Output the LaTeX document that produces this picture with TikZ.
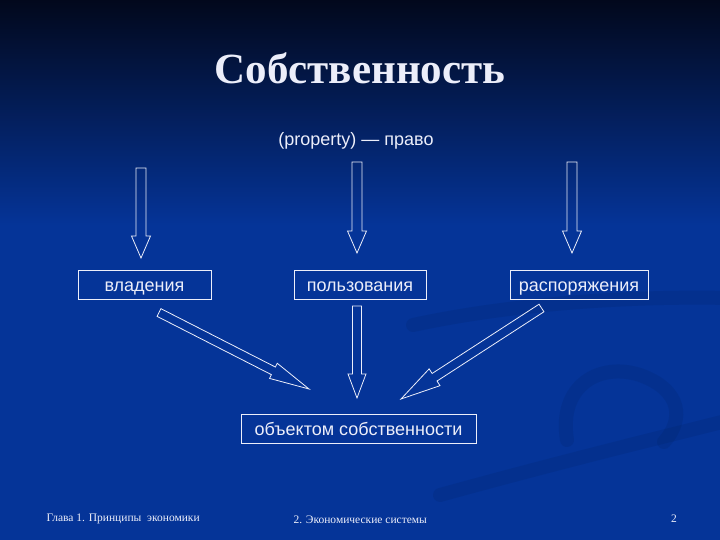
\documentclass[tikz,border=0pt]{standalone}
\usepackage{fontspec}
\setmainfont{Liberation Serif}
\setsansfont{Liberation Sans}
\usetikzlibrary{calc}

\definecolor{deep}{RGB}{2,8,28}
\definecolor{midblue}{RGB}{4,34,104}
\definecolor{slide}{RGB}{5,52,152}
\definecolor{ink}{RGB}{236,238,250}

\tikzset{
  box/.style={draw=ink, line width=0.9pt, text=ink, inner sep=0pt, minimum height=29pt,
    text height=15pt, text depth=2pt, font=\sffamily\fontsize{18}{18}\selectfont},
  lead/.style={text=ink, font=\sffamily\fontsize{18}{18}\selectfont},
  headline/.style={text=ink, font=\bfseries\fontsize{43}{43}\selectfont},
  foot/.style={text=ink, font=\fontsize{11.5}{11.5}\selectfont},
  fat/.style={draw=ink, line width=0.8pt, line join=miter},
  swoosh/.style={line width=14pt, draw=black!60!slide, opacity=0.1, line cap=round},
}

\newcommand\fatarrow[5]{%
  \coordinate (fh) at ($(#2)!#5pt!(#1)$);
  \draw[fat] ($(#1)!#3pt!90:(#2)$) -- ($(fh)!#3pt!90:(#2)$) -- ($(fh)!#4pt!90:(#2)$) -- (#2)
    -- ($(fh)!#4pt!-90:(#2)$) -- ($(fh)!#3pt!-90:(#2)$) -- ($(#1)!#3pt!-90:(#2)$) -- cycle;}

\begin{document}
\begin{tikzpicture}[x=1pt,y=-1pt]
  \useasboundingbox (0,0) rectangle (720,540);
  \fill[slide] (0,0) rectangle (720,540);
  \shade[top color=deep, middle color=midblue, bottom color=slide] (0,0) rectangle (720,225);
  \begin{scope}
    \clip (0,0) rectangle (720,540);
    \draw[swoosh] (440,495) .. controls (560,462) and (650,440) .. (730,420);
    \draw[swoosh] (413,325) .. controls (520,302) and (640,296) .. (730,298);
    \draw[swoosh] (567,440) .. controls (558,385) and (600,362) .. (640,375) .. controls (682,390) and (684,420) .. (664,442);
  \end{scope}

  \node[headline] (title) at (360,68) {Собственность};
  \node[lead] (right) at (356,141) {(property) — право};

  \node[box, minimum width=133pt] (own) at (144.5,285) {владения};
  \node[box, minimum width=132pt] (use) at (360,285) {пользования};
  \node[box, minimum width=138pt] (dispose) at (579,285) {распоряжения};
  \node[box, minimum width=235pt] (object) at (358.5,429) {объектом собственности};

  \coordinate (s1) at (141,168);
  \coordinate (e1) at (141,258);
  \coordinate (s2) at (357,162);
  \coordinate (e2) at (357,253);
  \coordinate (s3) at (572,162);
  \coordinate (e3) at (572,253);
  \coordinate (s4) at (159,312.5);
  \coordinate (e4) at (309,389);
  \coordinate (s5) at (357,306);
  \coordinate (e5) at (357,398);
  \coordinate (s6) at (541.5,308);
  \coordinate (e6) at (401,399);

  \fatarrow{s1}{e1}{5}{9.5}{22}
  \fatarrow{s2}{e2}{5}{9.5}{22}
  \fatarrow{s3}{e3}{5}{9.5}{22}
  \fatarrow{s4}{e4}{4.3}{8.5}{40}
  \fatarrow{s5}{e5}{4.5}{9}{24}
  \fatarrow{s6}{e6}{4.5}{10}{40}

  \node[foot, anchor=west] (chapter) at (43,519) {Глава 1. Принципы\ \ экономики};
  \node[foot, anchor=west] (section) at (290,520) {2. Экономические системы};
  \node[foot] (page) at (674,519) {2};
\end{tikzpicture}
\end{document}
